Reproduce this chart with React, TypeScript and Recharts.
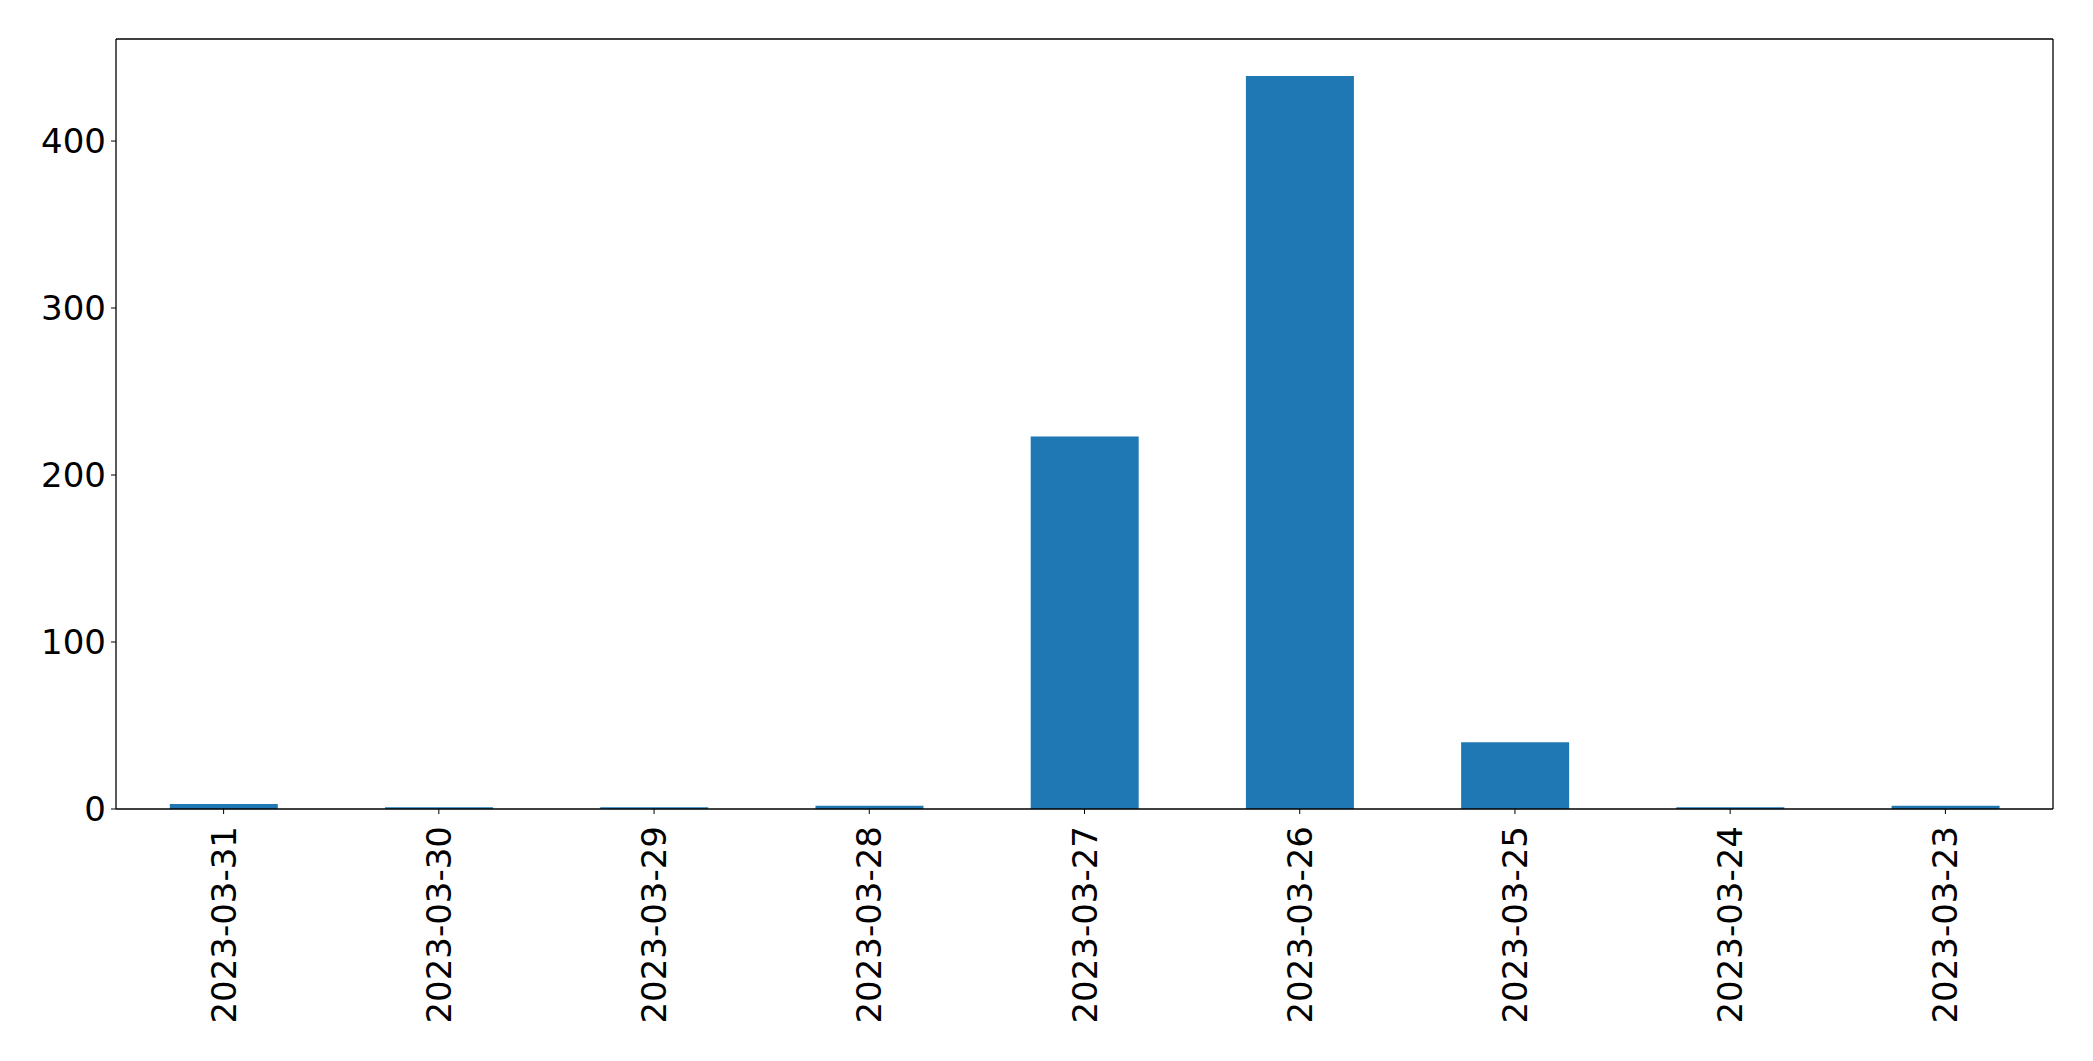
import React from "react";
import { Bar, BarChart, XAxis, YAxis } from "recharts";

const dates = [
  "2023-03-31",
  "2023-03-30",
  "2023-03-29",
  "2023-03-28",
  "2023-03-27",
  "2023-03-26",
  "2023-03-25",
  "2023-03-24",
  "2023-03-23",
];
const counts = [3, 1, 1, 2, 223, 439, 40, 1, 2];
const yTicks = [0, 100, 200, 300, 400];

const data = dates.map((date, i) => ({ date, count: counts[i] }));

const FONT = "'DejaVu Sans', sans-serif";

function DateTick({ x, y, payload }: any) {
  return (
    <text
      x={x}
      y={y + 4}
      transform={`rotate(-90, ${x}, ${y + 4})`}
      textAnchor='end'
      dominantBaseline='central'
      fontSize={34}
      fontFamily={FONT}
      fill='#000'
    >
      {payload.value}
    </text>
  );
}

export default function App() {
  return (
    <div style={{ position: "absolute", left: 0, top: 0, background: "#fff" }}>
      <BarChart
        width={2093}
        height={1061}
        data={data}
        margin={{ top: 38, right: 39, bottom: 0, left: 0 }}
        barCategoryGap='25%'
      >
        <XAxis
          dataKey='date'
          height={252}
          interval={0}
          tickSize={5}
          tickMargin={8}
          stroke='#000'
          tickLine={{ stroke: "#000" }}
          axisLine={{ stroke: "#000", strokeWidth: 1.3 }}
          tick={<DateTick />}
        />
        <XAxis
          xAxisId='top'
          orientation='top'
          dataKey='date'
          height={1}
          tick={false}
          tickLine={false}
          stroke='#000'
          axisLine={{ stroke: "#000", strokeWidth: 1.3 }}
        />
        <YAxis
          width={116}
          domain={[0, 461.1]}
          ticks={yTicks}
          tickSize={5}
          tickMargin={5}
          stroke='#000'
          axisLine={{ stroke: "#000", strokeWidth: 1.3 }}
          tick={{ fontSize: 34, fontFamily: FONT, fill: "#000" }}
        />
        <YAxis
          yAxisId='right'
          orientation='right'
          width={1}
          domain={[0, 461.1]}
          tick={false}
          tickLine={false}
          stroke='#000'
          axisLine={{ stroke: "#000", strokeWidth: 1.3 }}
        />
        <Bar dataKey='count' fill='#1f77b4' isAnimationActive={false} />
      </BarChart>
    </div>
  );
}
